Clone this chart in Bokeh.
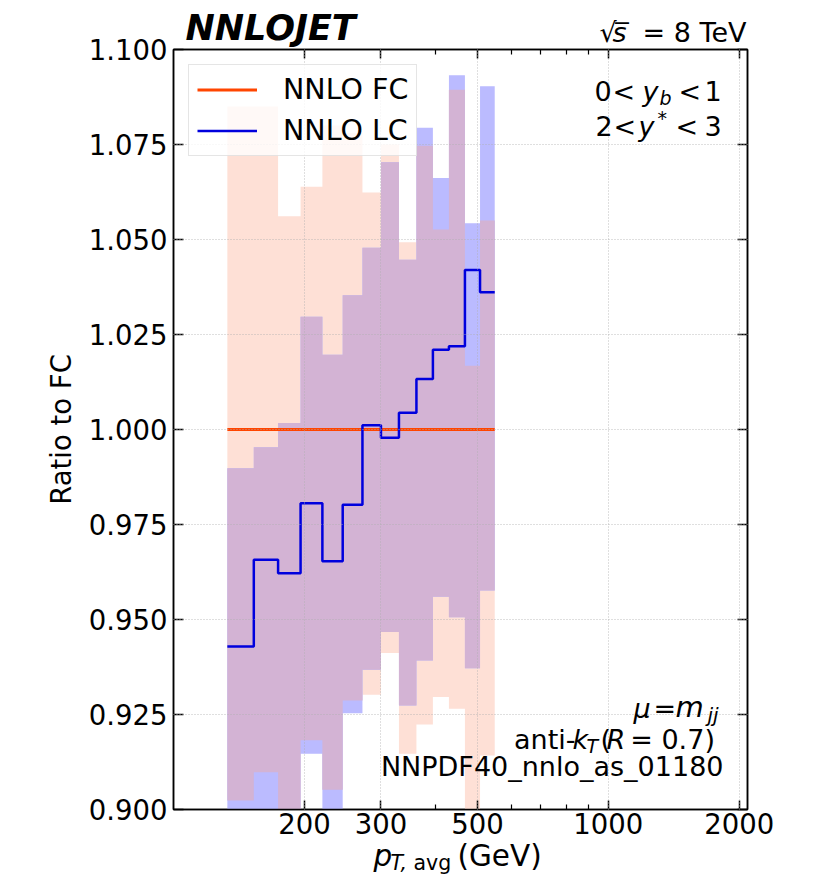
import math
import numpy as np
from bokeh.plotting import figure
from bokeh.layouts import column
from bokeh.models import (Range1d, FixedTicker, LogAxis, LinearAxis, NumeralTickFormatter,
                          CustomJSTickFormatter, Legend, LegendItem, Label)
from bokeh.embed import file_html
from bokeh.resources import INLINE

# ---------------- data ----------------
bin_edges = [133, 153, 174, 196, 220, 245, 272, 300, 330, 362, 395, 430, 468, 507, 548]
fc_central = [1.0] * 14
fc_upper = [1.085, 1.085, 1.0561, 1.0639, 1.080, 1.078, 1.0624, 1.075, 1.0493, 1.0747, 1.0526, 1.0894, 1.0168, 1.0550]
fc_lower = [0.9024, 0.9098, 0.895, 0.9182, 0.9052, 0.9287, 0.9302, 0.9412, 0.9147, 0.9224, 0.9296, 0.9265, 0.895, 0.9142]
lc_central = [0.9429, 0.9657, 0.9622, 0.9806, 0.9653, 0.9802, 1.0011, 0.9978, 1.0044, 1.0133, 1.0210, 1.0219, 1.0420, 1.0361]
lc_upper = [0.9898, 0.9953, 1.0017, 1.0297, 1.0197, 1.0353, 1.0478, 1.0703, 1.0447, 1.0794, 1.0662, 1.0932, 1.0543, 1.0903]
lc_lower = [0.895, 0.895, 0.893, 0.9147, 0.895, 0.9253, 0.9368, 0.9467, 0.9274, 0.9392, 0.9560, 0.9506, 0.9372, 0.9576]

x_major_ticks = [200, 300, 500, 1000, 2000]
x_minor_ticks = [400, 600, 700, 800, 900]
y_ticks = [0.900, 0.925, 0.950, 0.975, 1.000, 1.025, 1.050, 1.075, 1.100]

series_labels = ["NNLO FC", "NNLO LC"]

# ---------------- style ----------------
FC_BAND = "#fee0d6"
LC_BAND = "#bbbbff"
OVERLAP = "#d3b3d4"
FC_LINE = "#ff4500"
LC_LINE = "#0000dd"
FONT = "DejaVu Sans"
FS_TICK = "27.5px"
FS_LEG = "28.5px"

W, H = 815, 882
TOP_H = 49          # top text strip (sits under the transparent border of the main plot)
BOT_H = 45          # bottom text strip (sits over the transparent border of the main plot)

XS, XE = 100, 2090
YS, YE = 0.9, 1.1
L, R, T, B = 173, 747, 49, 809   # frame in page pixels

p = figure(width=W, height=H, x_axis_type="log",
           x_range=Range1d(XS, XE), y_range=Range1d(YS, YE),
           output_backend="svg", toolbar_location=None, title=None,
           min_border_left=L, min_border_right=W - R,
           min_border_top=T, min_border_bottom=H - B,
           margin=(-TOP_H, 0, 0, 0))
p.background_fill_color = "white"
p.border_fill_alpha = 0.0
p.outline_line_color = "black"
p.outline_line_width = 1.5
p.outline_line_alpha = 1.0


def step_vals(v):
    return list(v) + [v[-1]]


edges = np.array(bin_edges, dtype=float)
fcu = np.array(fc_upper); fcl = np.array(fc_lower)
lcu = np.array(lc_upper); lcl = np.array(lc_lower)
ov_lo = np.maximum(fcl, lcl)
ov_hi = np.minimum(fcu, lcu)

p.varea_step(x=edges, y1=step_vals(fcl), y2=step_vals(fcu), step_mode="after",
             fill_color=FC_BAND)
p.varea_step(x=edges, y1=step_vals(lcl), y2=step_vals(lcu), step_mode="after",
             fill_color=LC_BAND)
p.varea_step(x=edges, y1=step_vals(ov_lo), y2=step_vals(ov_hi), step_mode="after",
             fill_color=OVERLAP)

fc_line = p.step(x=edges, y=step_vals(fc_central), mode="after",
                 line_color=FC_LINE, line_width=3)
lc_line = p.step(x=edges, y=step_vals(lc_central), mode="after",
                 line_color=LC_LINE, line_width=2.5)

# dummy renderers for the legend bands
fc_leg = p.line(x=[], y=[], line_color=FC_BAND, line_width=20, line_cap="butt")
lc_leg = p.line(x=[], y=[], line_color=LC_BAND, line_width=20, line_cap="butt")

# ---------------- axes ----------------
xt = FixedTicker(ticks=x_major_ticks, minor_ticks=x_minor_ticks)
yt = FixedTicker(ticks=y_ticks, minor_ticks=[])

xa = p.xaxis[0]
xa.ticker = xt
xa.formatter = NumeralTickFormatter(format="0")
ya = p.yaxis[0]
ya.ticker = yt
ya.formatter = NumeralTickFormatter(format="0.000")
ya.axis_label = "Ratio to FC"
ya.axis_label_text_font = FONT
ya.axis_label_text_font_size = FS_TICK
ya.axis_label_text_font_style = "normal"
ya.axis_label_text_color = "black"
ya.axis_label_standoff = 9

for ax in (xa, ya):
    ax.major_label_text_font = FONT
    ax.major_label_text_font_size = FS_TICK
    ax.major_label_text_color = "black"
    ax.axis_line_color = "black"
    ax.axis_line_width = 1.5
    ax.major_tick_line_color = "black"
    ax.major_tick_line_width = 1.5
    ax.minor_tick_line_color = "black"
    ax.minor_tick_line_width = 1.2
    ax.major_tick_out = 0
    ax.minor_tick_out = 0
    ax.minor_tick_in = 5
xa.major_tick_in = 9
ya.major_tick_in = 10
xa.major_label_standoff = 3
ya.major_label_standoff = 6

empty = CustomJSTickFormatter(code="return ''")
top = LogAxis(ticker=xt, formatter=empty, major_label_text_font_size="0px",
              major_tick_in=9, major_tick_out=0, minor_tick_in=5, minor_tick_out=0,
              major_tick_line_width=1.5, minor_tick_line_width=1.2,
              axis_line_color="black", axis_line_width=1.5, major_label_standoff=0)
right = LinearAxis(ticker=yt, formatter=empty, major_label_text_font_size="0px",
                   major_tick_in=10, major_tick_out=0, minor_tick_in=0, minor_tick_out=0,
                   major_tick_line_width=1.5,
                   axis_line_color="black", axis_line_width=1.5, major_label_standoff=0)
p.add_layout(top, "above")
p.add_layout(right, "right")

for g in (p.xgrid[0], p.ygrid[0]):
    g.grid_line_color = "#b0b0b0"
    g.grid_line_alpha = 0.8
    g.grid_line_dash = "1 2"
    g.grid_line_width = 1
    g.level = "annotation"
p.xgrid[0].ticker = xt
p.ygrid[0].ticker = yt

# ---------------- legend ----------------
legend = Legend(items=[LegendItem(label=series_labels[0], renderers=[fc_leg, fc_line]),
                       LegendItem(label=series_labels[1], renderers=[lc_leg, lc_line])],
                location="top_left", margin=15, padding=8, spacing=8,
                glyph_width=60, glyph_height=25, label_height=25, label_standoff=26,
                label_text_font=FONT, label_text_font_size=FS_LEG, label_text_color="black",
                border_line_color="#cccccc", border_line_width=1.2,
                background_fill_color="white", background_fill_alpha=0.8)
p.add_layout(legend)


# ---------------- text helpers (positions given as baseline in page pixels) ----------------
def mid(Y, size):
    return Y - 0.346 * size


def px2data(X, Y):
    lx = math.log10(XS) + (X - L) / (R - L) * (math.log10(XE) - math.log10(XS))
    y = YE - (Y - T) / (B - T) * (YE - YS)
    return 10 ** lx, y


def txt(s, X, Y, size=27, style="normal", align="left"):
    x, y = px2data(X, mid(Y, size))
    p.add_layout(Label(x=x, y=y, text=s, text_font=FONT, text_font_size=f"{size}px",
                       text_font_style=style, text_align=align,
                       text_baseline="middle", text_color="black"))


SUB = 19
txt("0", 594, 100)
txt("<", 612, 100)
txt("y", 642, 100, style="italic")
txt("b", 659, 104, size=SUB, style="italic")
txt("<", 678, 100)
txt("1", 704, 100)

txt("2", 595, 135)
txt("<", 613, 135)
txt("y", 638, 135, style="italic")
txt("*", 657, 124, size=SUB)
txt("<", 675, 135)
txt("3", 704, 135)

txt("\u03bc", 633, 717, style="italic")
txt("=", 653, 717)
txt("m", 675, 717, size=29, style="italic")
txt("jj", 707, 721, size=20, style="italic")

txt("anti-", 575, 748, align="right")
txt("k", 572, 748, style="italic")
txt("T", 586, 752, size=SUB, style="italic")
txt("(", 600, 748)
txt("R", 606, 748, style="italic")
txt(" = 0.7)", 723, 748, align="right")

txt("NNPDF40_nnlo_as_01180", 723, 775, align="right")


# ---------------- strips above and below (same side borders as the main plot) ----------------
def strip(h, y0, transparent):
    f = figure(width=W, height=h, x_range=Range1d(L, R), y_range=Range1d(y0 + h, y0),
               output_backend="svg", toolbar_location=None, title=None,
               x_axis_type=None, y_axis_type=None,
               min_border_left=L, min_border_right=W - R,
               min_border_top=0, min_border_bottom=0)
    f.outline_line_color = None
    if transparent:
        f.background_fill_alpha = 0.0
        f.border_fill_alpha = 0.0
    else:
        f.background_fill_color = "white"
        f.border_fill_color = "white"
    f.grid.visible = False
    return f


top_strip = strip(TOP_H, 0, False)
bot_strip = strip(BOT_H, H - BOT_H, True)
bot_strip.margin = (-BOT_H, 0, 0, 0)


def stxt(f, s, X, Y, size=27, style="normal", align="left"):
    f.add_layout(Label(x=X, y=mid(Y, size), text=s, text_font=FONT,
                       text_font_size=f"{size}px", text_font_style=style,
                       text_align=align, text_baseline="middle", text_color="black"))


stxt(top_strip, "NNLOJET", 185, 39.5, size=35, style="bold italic")
stxt(top_strip, "\u221a", 599, 41.7)
stxt(top_strip, "s\u0305", 612, 41.7, style="italic")
stxt(top_strip, "= 8 TeV", 746, 41.7, align="right")

stxt(bot_strip, "p", 373, 866, size=29.5, style="italic")
stxt(bot_strip, "T,", 390, 870, size=20.5, style="italic")
stxt(bot_strip, "avg", 413, 870, size=20.5)
stxt(bot_strip, "(GeV)", 457, 866, size=29.5)

layout = column(top_strip, p, bot_strip, spacing=0)
open("out.html", "w").write(file_html(layout, INLINE))
